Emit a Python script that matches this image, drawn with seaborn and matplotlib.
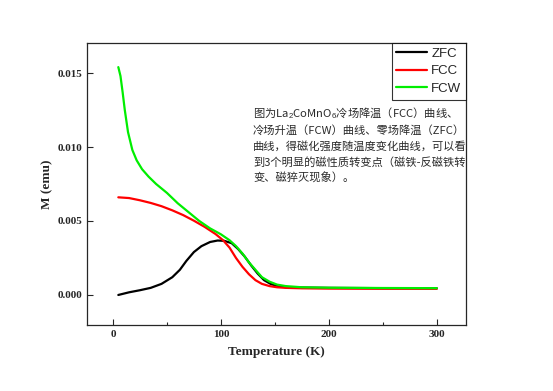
import matplotlib
matplotlib.use("Agg")
import matplotlib.pyplot as plt
import pandas as pd
import seaborn as sns

# temperature (K) and magnetisation (emu)
zfc_t = [5, 15, 25, 35, 45, 55, 62, 68, 75, 82, 90, 97, 103, 110, 116, 122, 128, 134, 140, 146, 152, 160, 175, 200, 250, 300]
zfc_m = [0.0000, 0.00018, 0.00032, 0.00048, 0.00075, 0.0012, 0.0017, 0.0023, 0.0029, 0.0033, 0.00358, 0.00368, 0.00366, 0.0035, 0.0031, 0.0026, 0.0020, 0.00145, 0.0010, 0.00075, 0.0006, 0.00053, 0.0005, 0.00048, 0.00046, 0.00045]

fcc_t = [5, 15, 25, 35, 45, 55, 65, 75, 85, 95, 102, 108, 114, 120, 126, 132, 138, 145, 152, 160, 175, 200, 250, 300]
fcc_m = [0.0066, 0.00655, 0.0064, 0.00622, 0.0060, 0.00572, 0.0054, 0.00502, 0.0046, 0.00412, 0.0037, 0.0032, 0.0025, 0.0019, 0.0014, 0.0010, 0.00075, 0.0006, 0.00052, 0.00048, 0.00045, 0.00043, 0.00042, 0.00042]

fcw_t = [5, 7, 9, 11, 14, 18, 22, 27, 33, 40, 50, 60, 70, 80, 90, 100, 108, 114, 120, 126, 132, 138, 145, 152, 160, 175, 200, 250, 300]
fcw_m = [0.0154, 0.0148, 0.0137, 0.0125, 0.0110, 0.0098, 0.0091, 0.0085, 0.0080, 0.0075, 0.0069, 0.0062, 0.0056, 0.0050, 0.0045, 0.0041, 0.0037, 0.0033, 0.0028, 0.0022, 0.0017, 0.0012, 0.0009, 0.0007, 0.0006, 0.00052, 0.00049, 0.00047, 0.00046]

note = ("图为La$_2$CoMnO$_6$冷场降温（FCC）曲线、\n"
        "冷场升温（FCW）曲线、零场降温（ZFC）\n"
        "曲线，得磁化强度随温度变化曲线，可以看\n"
        "到3个明显的磁性质转变点（磁铁-反磁铁转\n"
        "变、磁猝灭现象）。")

df = pd.concat([
    pd.DataFrame({"T": zfc_t, "M": zfc_m, "curve": "ZFC"}),
    pd.DataFrame({"T": fcc_t, "M": fcc_m, "curve": "FCC"}),
    pd.DataFrame({"T": fcw_t, "M": fcw_m, "curve": "FCW"}),
])

sns.set_style("ticks")
plt.rcParams["font.family"] = ["Liberation Serif", "DejaVu Sans"]
plt.rcParams["mathtext.fontset"] = "custom"
plt.rcParams["mathtext.rm"] = "Liberation Sans"
plt.rcParams["mathtext.it"] = "Liberation Sans"

fig = plt.figure(figsize=(5.53, 3.91), dpi=100)
ax = fig.add_axes([87 / 553, 1 - 325 / 391, (466 - 87) / 553, (325 - 43) / 391])

sns.lineplot(data=df, x="T", y="M", hue="curve", sort=False, ax=ax,
             palette={"ZFC": "#000000", "FCC": "#ff0000", "FCW": "#00ee00"},
             linewidth=1.6, legend=True)

ax.set_xlim(-24, 327)
ax.set_ylim(-0.00203, 0.01703)
ax.set_xticks([0, 100, 200, 300])
ax.set_xticks([50, 150, 250], minor=True)
ax.set_yticks([0.0, 0.005, 0.010, 0.015])
ax.set_yticks([-0.0025 + 0.0025 * i for i in range(1, 8, 2)], minor=True)
ax.set_yticklabels(["0.000", "0.005", "0.010", "0.015"])
ax.tick_params(which="both", direction="in", top=False, right=False, width=0.8)
ax.tick_params(which="major", length=4, labelsize=8)
ax.tick_params(which="minor", length=2.5)
for lab in ax.get_xticklabels() + ax.get_yticklabels():
    lab.set_fontweight("bold")
for sp in ax.spines.values():
    sp.set_linewidth(0.9)

ax.set_xlabel("Temperature (K)", fontsize=9.5, fontweight="bold", labelpad=5)
ax.set_ylabel("M (emu)", fontsize=9.5, fontweight="bold", labelpad=3)

leg = ax.legend(loc="upper right", borderaxespad=0, fancybox=False, edgecolor="black",
                prop={"family": "Liberation Sans", "size": 9.5}, handlelength=2.3,
                labelspacing=0.4, handletextpad=0.35, borderpad=0.35)
leg.get_frame().set_linewidth(0.8)
leg.set_title(None)

fig.text(253 / 553, 1 - 105 / 391, note, ha="left", va="top", fontsize=8.1,
         family=["Noto Sans CJK SC", "DejaVu Sans"], color="#2a2a2a", linespacing=1.55)

fig.savefig("out.png", dpi=100)
